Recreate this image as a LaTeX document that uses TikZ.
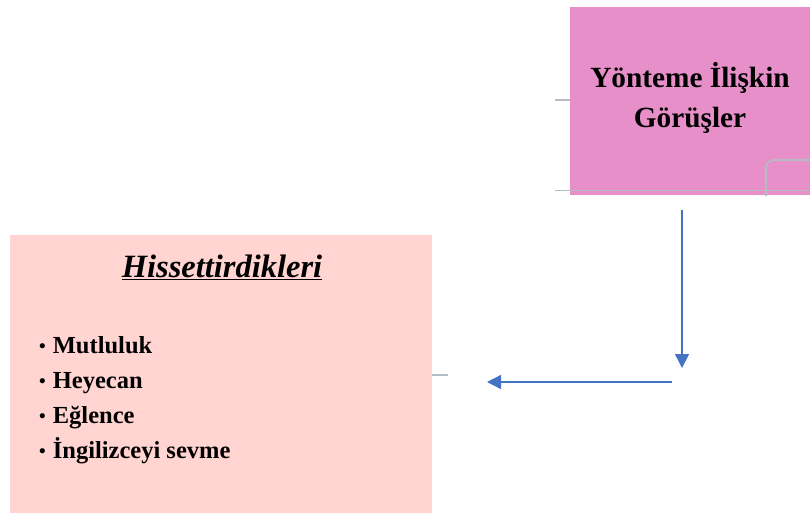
\documentclass[tikz,border=0pt]{standalone}
\usepackage{fontspec}
\setmainfont{Liberation Serif}
\usetikzlibrary{arrows.meta}
\definecolor{methodpink}{HTML}{E78FC9}
\definecolor{feelpink}{HTML}{FFD4D1}
\definecolor{flowblue}{HTML}{4472C4}
\definecolor{stubgrey}{HTML}{B4BCC4}
\newcommand{\feelitem}{\raisebox{1pt}{\fontsize{19}{19}\selectfont•}\hspace{7pt}}
\tikzset{
  x=1pt, y=-1pt,
  topicbox/.style={fill=methodpink, draw=none, minimum width=240pt, minimum height=188pt, inner sep=0pt},
  feelbox/.style={fill=feelpink, draw=none, minimum width=422pt, minimum height=300pt, inner sep=0pt},
  flow/.style={draw=flowblue, line width=1.4pt, -{Triangle[width=14pt,length=14pt]}},
  stub/.style={draw=stubgrey, line width=1.6pt},
}
\begin{document}
\begin{tikzpicture}
\useasboundingbox (0,0) rectangle (810,513);
\clip (0,0) rectangle (810,513);
% method box
\node[topicbox] (method) at (690,101) {};
\node[font=\bfseries\fontsize{29.3}{40}\selectfont, align=center] (methodtxt) at (690,98) {Yönteme İlişkin\\Görüşler};
% side stubs of the method box
\coordinate (s1a) at (555,100);
\coordinate (s1b) at (570,100);
\draw[stub] (s1a) -- (s1b);
\coordinate (s2a) at (555,190.5);
\coordinate (s2b) at (810,190.5);
\draw[stub] (s2a) -- (s2b);
\coordinate (c1) at (766,196);
\coordinate (c2) at (810,160);
\draw[stub, rounded corners=8pt] (c1) |- (c2);
% feelings box
\node[feelbox] (feel) at (221,385) {};
\node[font=\bfseries\itshape\fontsize{32.5}{34}\selectfont] (feeltitle) at (222,267) {\underline{Hissettirdikleri}};
\node[font=\bfseries\fontsize{24.5}{35}\selectfont, align=left, anchor=west, inner sep=0pt] (feellist) at (39,400)
  {\feelitem Mutluluk\\\feelitem Heyecan\\\feelitem Eğlence\\\feelitem İngilizceyi sevme};
\coordinate (s3a) at (432,375);
\coordinate (s3b) at (448,375);
\draw[stub, line width=1.2pt] (s3a) -- (s3b);
% flow arrows
\coordinate (a1) at (682,210);
\coordinate (a2) at (682,368);
\draw[flow] (a1) -- (a2);
\coordinate (b1) at (672,382);
\coordinate (b2) at (487,382);
\draw[flow] (b1) -- (b2);
\end{tikzpicture}
\end{document}
